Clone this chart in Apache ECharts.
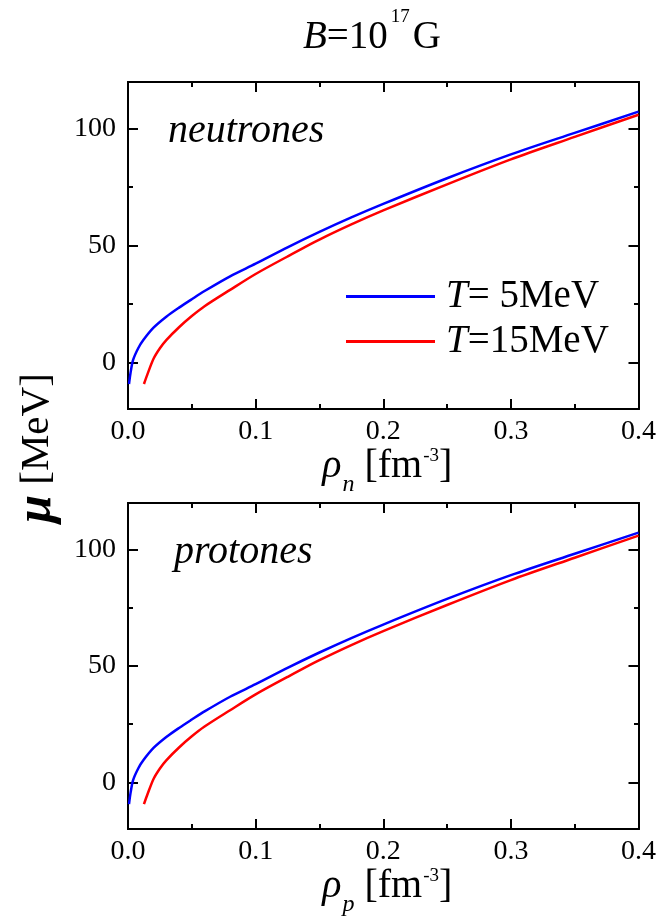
<!DOCTYPE html>
<html>
<head>
<meta charset="utf-8">
<script src="https://cdn.jsdelivr.net/npm/echarts@6/dist/echarts.min.js"></script>
<style>
  html, body { margin: 0; padding: 0; background: #fff; }
  #chart { width: 659px; height: 922px; }
</style>
</head>
<body>
<div id="chart"></div>
<script>
// densidad (fm^-3) y potencial quimico (MeV)
const rhoT5 = [0.0008, 0.002, 0.004, 0.008, 0.012, 0.02, 0.03, 0.04, 0.05, 0.06, 0.08, 0.1, 0.125, 0.15, 0.175, 0.2, 0.25, 0.3, 0.35, 0.4];
const muNeutronT5 = [-9.3, -4.5, 1.0, 6.0, 9.5, 14.8, 19.5, 23.4, 27.0, 30.5, 36.8, 42.2, 49.2, 55.8, 62.0, 67.8, 78.8, 89.0, 98.2, 107.3];
const muProtonT5 = [-9.3, -4.5, 1.0, 6.0, 9.5, 14.8, 19.5, 23.4, 27.0, 30.5, 36.8, 42.2, 49.2, 55.8, 62.0, 67.8, 78.8, 89.0, 98.2, 107.3];

const rhoT15 = [0.0125, 0.015, 0.02, 0.025, 0.03, 0.04, 0.05, 0.06, 0.08, 0.1, 0.125, 0.15, 0.175, 0.2, 0.25, 0.3, 0.35, 0.4];
const muNeutronT15 = [-9.3, -5.5, 1.5, 6.0, 9.5, 15.0, 19.8, 24.0, 31.0, 37.8, 45.3, 52.5, 59.0, 65.0, 76.2, 86.9, 96.5, 106.0];
const muProtonT15 = [-9.3, -5.5, 1.5, 6.0, 9.5, 15.0, 19.8, 24.0, 31.0, 37.8, 45.3, 52.5, 59.0, 65.0, 76.2, 86.9, 96.5, 106.0];

const yMajorTicks = [0, 50, 100];
const yMinorTicks = [25, 75];
const xSubscripts = ['n', 'p'];
const panelLabels = ['neutrones', 'protones'];

const FONT = 'Liberation Serif';
const panels = [
  { left: 128, right: 20, top: 82, height: 327 },
  { left: 128, right: 20, top: 503, height: 326 }
];
// grids 0,1 hold the curves; grids 2,3 sit on top of them and only carry the short y ticks
const grids = panels.concat(panels.map(p => Object.assign({}, p)));

const pair = (xs, ys) => xs.map((x, i) => [x, ys[i]]);

const lineStyle = { color: '#000', width: 2 };
const nameRich = {
  i: { fontFamily: FONT, fontSize: 40, fontStyle: 'italic', lineHeight: 40, verticalAlign: 'top' },
  m: { fontFamily: FONT, fontSize: 40, lineHeight: 40, verticalAlign: 'top' },
  sub: { fontFamily: FONT, fontSize: 24, fontStyle: 'italic', lineHeight: 24, verticalAlign: 'top', padding: [26, 0, 0, 1] },
  sup: { fontFamily: FONT, fontSize: 19, lineHeight: 19, verticalAlign: 'top', padding: [0, 0, 0, 1] }
};

const xAxes = [];
const yAxes = [];
panels.forEach((g, gi) => {
  const xBase = {
    gridIndex: gi, type: 'value', min: 0, max: 0.4, interval: 0.1,
    axisLine: { show: true, onZero: false, lineStyle },
    axisTick: { show: true, inside: true, length: 10, lineStyle },
    minorTick: { show: true, splitNumber: 2, length: 5, lineStyle },
    splitLine: { show: false }, minorSplitLine: { show: false }
  };
  xAxes.push(Object.assign({}, xBase, {
    position: 'bottom',
    axisLabel: { fontFamily: FONT, fontSize: 28, color: '#000', margin: 9,
      formatter: v => v.toFixed(1) },
    name: '{i|ρ}{sub|' + xSubscripts[gi] + '}{m| [fm}{sup|-3}{m|]}',
    nameLocation: 'middle', nameGap: 31,
    nameTextStyle: { fontFamily: FONT, fontSize: 40, color: '#000', padding: [0, 0, 0, 8], rich: nameRich }
  }));
  xAxes.push(Object.assign({}, xBase, { position: 'top', axisLabel: { show: false } }));

  const yBase = {
    gridIndex: gi, type: 'value', min: -20, max: 120,
    axisLine: { show: true, onZero: false, lineStyle },
    splitLine: { show: false }
  };
  ['left', 'right'].forEach(side => {
    yAxes.push(Object.assign({}, yBase, {
      position: side,
      axisTick: { show: true, inside: true, length: 10, lineStyle, customValues: yMajorTicks },
      axisLabel: side === 'left'
        ? { fontFamily: FONT, fontSize: 28, color: '#000', margin: 12, customValues: yMajorTicks }
        : { show: false }
    }));
  });
});

// helper grids: short y ticks
panels.forEach((g, gi) => {
  const hg = gi + 2;
  xAxes.push({ gridIndex: hg, type: 'value', min: 0, max: 0.4, show: false });
  ['left', 'right'].forEach(side => {
    yAxes.push({
      gridIndex: hg, type: 'value', min: -20, max: 120, position: side,
      axisLine: { show: true, onZero: false, lineStyle },
      axisTick: { show: true, inside: true, length: 5, lineStyle, customValues: yMinorTicks },
      axisLabel: { show: false },
      splitLine: { show: false }
    });
  });
});

const mkSeries = (name, color, gi, xs, ys) => ({
  name, type: 'line', xAxisIndex: gi * 2, yAxisIndex: gi * 2,
  data: pair(xs, ys), symbol: 'none', smooth: 0.3,
  lineStyle: { color, width: 2.5 }, itemStyle: { color }, z: 3
});

const series = [
  mkSeries('T5', '#0000ff', 0, rhoT5, muNeutronT5),
  mkSeries('T15', '#ff0000', 0, rhoT15, muNeutronT15),
  mkSeries('T5', '#0000ff', 1, rhoT5, muProtonT5),
  mkSeries('T15', '#ff0000', 1, rhoT15, muProtonT15)
];

const chart = echarts.init(document.getElementById('chart'), null, { renderer: 'canvas' });
chart.setOption({
  backgroundColor: '#fff',
  animation: false,
  grid: grids,
  xAxis: xAxes,
  yAxis: yAxes,
  legend: {
    data: ['T5', 'T15'],
    orient: 'vertical', left: 346, top: 277, padding: 0,
    icon: 'rect', itemWidth: 89, itemHeight: 3, itemGap: 6,
    formatter: n => n === 'T5' ? '{i|T}= 5MeV' : '{i|T}=15MeV',
    textStyle: {
      fontFamily: FONT, fontSize: 39, color: '#000', padding: [0, 0, 0, 6],
      rich: { i: { fontFamily: FONT, fontSize: 39, fontStyle: 'italic' } }
    }
  },
  graphic: [
    {
      type: 'text', x: 372, y: 8,
      style: {
        text: '{i|B}{m|=10}{sup|17}{m|G}', fontFamily: FONT, fontSize: 39, fill: '#000',
        align: 'center', verticalAlign: 'top',
        rich: {
          i: { fontFamily: FONT, fontSize: 39, fontStyle: 'italic', lineHeight: 40, verticalAlign: 'top', padding: [10, 0, 0, 0] },
          m: { fontFamily: FONT, fontSize: 39, lineHeight: 40, verticalAlign: 'top', padding: [10, 0, 0, 0] },
          sup: { fontFamily: FONT, fontSize: 19, lineHeight: 19, verticalAlign: 'top', padding: [0, 3, 0, 3] }
        }
      }
    },
    {
      type: 'text', x: 37, y: 448, rotation: Math.PI / 2,
      style: {
        text: '{mu|μ} [MeV]', fontFamily: FONT, fontSize: 41, fill: '#000',
        align: 'center', verticalAlign: 'middle',
        rich: { mu: { fontFamily: FONT, fontSize: 50, fontStyle: 'italic', fontWeight: 'bold' } }
      }
    },
    ...panelLabels.map((t, i) => ({
      type: 'text', x: i === 0 ? 168 : 174, y: panels[i].top + 49,
      style: {
        text: t, fontFamily: FONT, fontSize: 40, fontStyle: 'italic', fill: '#000',
        align: 'left', verticalAlign: 'middle'
      }
    }))
  ],
  series
});
</script>
</body>
</html>
